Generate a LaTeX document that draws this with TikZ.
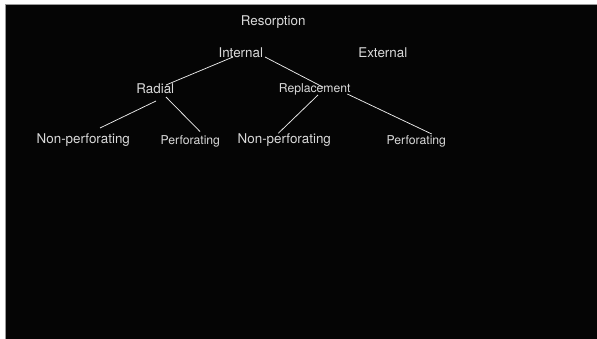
\documentclass[tikz,border=0pt]{standalone}
\usepackage{fontspec}
\setmainfont{TeX Gyre Heros}
\usetikzlibrary{calc}
\definecolor{bg}{HTML}{050505}
\definecolor{ink}{HTML}{DADADA}
\definecolor{edge}{HTML}{9A9A9A}
\tikzset{
  lbl/.style={text=ink, inner sep=0pt, anchor=base, font=\fontsize{13.4}{16}\selectfont},
  lblsmall/.style={lbl, font=\fontsize{12.2}{14}\selectfont},
  branch/.style={draw=white!92!black, line width=0.75pt},
}
\begin{document}
\begin{tikzpicture}[x=1pt,y=-1pt]
  % canvas with a light frame along the top and left
  \useasboundingbox (0,0) rectangle (597,339);
  \fill[white] (0,0) rectangle (597,339);
  \fill[bg] (5,4) rectangle (597,339);
  \draw[edge, line width=0.8pt] (5,339) -- (5,4) -- (597,4);

  % labels
  \node[lbl] (res) at (273.2,26) {Resorption};
  \node[lbl] (int) at (240.8,57.3) {Internal};
  \node[lbl] (ext) at (382.8,57.3) {External};
  \node[lbl] (rad) at (155.3,94) {Radial};
  \node[lblsmall] (rep) at (314.7,92.7) {Replacement};
  \node[lbl] (npl) at (83.3,144) {Non-perforating};
  \node[lblsmall] (pl) at (190.3,144.3) {Perforating};
  \node[lbl] (npm) at (284.3,144) {Non-perforating};
  \node[lblsmall] (pr) at (416.3,144.3) {Perforating};

  % branches
  \draw[branch] ($(int.base)+(-7.8,-0.3)$) -- ($(rad.base)+(10.7,-9)$);
  \draw[branch] ($(int.base)+(24.2,-0.3)$) -- ($(rep.base)+(8.6,-5.4)$);
  \draw[branch] ($(rad.base)+(0.7,7)$) -- ($(npl.base)+(16.7,-16)$);
  \draw[branch] ($(rad.base)+(10.7,3)$) -- ($(pl.base)+(9.7,-12.8)$);
  \draw[branch] ($(rep.base)+(3.3,2.3)$) -- ($(npm.base)+(-6,-10.7)$);
  \draw[branch] ($(rep.base)+(32.6,1.3)$) -- ($(pr.base)+(15.4,-10.3)$);
\end{tikzpicture}
\end{document}
